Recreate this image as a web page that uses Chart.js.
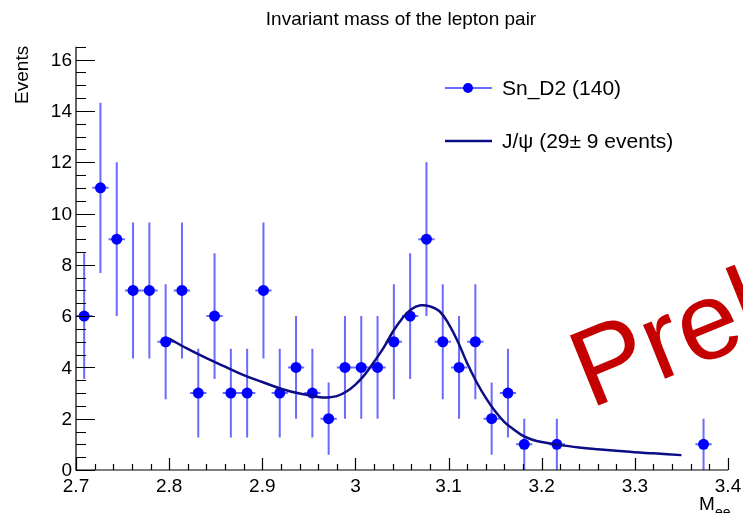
<!DOCTYPE html>
<html lang="en">
  <head>
    <meta charset="UTF-8" />
    <title>Invariant mass</title>
    <script src="https://cdn.jsdelivr.net/npm/chart.js"></script>
    <style>
      html, body { margin: 0; padding: 0; background: #fff; }
      #wrap { width: 743px; height: 513px; }
    </style>
  </head>
  <body>
    <div id="wrap">
      <canvas id="myChart" width="743" height="513"></canvas>
    </div>

    <script>
      // bin centres (bin width 0.0175) of the non-empty bins
      const binCenters = [
        2.70875, 2.72625, 2.74375, 2.76125, 2.77875, 2.79625, 2.81375, 2.83125,
        2.84875, 2.86625, 2.88375, 2.90125, 2.91875, 2.93625, 2.95375, 2.97125,
        2.98875, 3.00625, 3.02375, 3.04125, 3.05875, 3.07625, 3.09375, 3.11125,
        3.12875, 3.14625, 3.16375, 3.18125, 3.21625, 3.37375,
      ];
      const counts = [
        6, 11, 9, 7, 7, 5, 7, 3, 6, 3, 3, 7, 3, 4, 3, 2, 4, 4, 4, 5, 6, 9, 5, 4,
        5, 2, 3, 1, 1, 1,
      ];
      const countErr = [
        2.45, 3.32, 3.0, 2.65, 2.65, 2.24, 2.65, 1.73, 2.45, 1.73, 1.73, 2.65,
        1.73, 2.0, 1.73, 1.41, 2.0, 2.0, 2.0, 2.24, 2.45, 3.0, 2.24, 2.0, 2.24,
        1.41, 1.73, 1.0, 1.0, 1.0,
      ];
      const binHalfWidth = 0.00875;

      // J/psi fit curve
      const fitX = [
        2.8, 2.82, 2.84, 2.86, 2.88, 2.9, 2.92, 2.94, 2.96, 2.97, 2.98, 2.99,
        3.0, 3.01, 3.02, 3.03, 3.04, 3.05, 3.06, 3.07, 3.08, 3.09, 3.1, 3.11,
        3.12, 3.13, 3.14, 3.15, 3.16, 3.17, 3.18, 3.19, 3.2, 3.22, 3.24, 3.26,
        3.28, 3.3, 3.32, 3.35,
      ];
      const fitY = [
        5.12, 4.72, 4.36, 4.03, 3.7, 3.43, 3.17, 2.98, 2.85, 2.83, 2.88, 3.05,
        3.33, 3.72, 4.22, 4.75, 5.38, 5.9, 6.27, 6.42, 6.38, 6.2, 5.7, 5.0,
        4.16, 3.43, 2.81, 2.29, 1.87, 1.58, 1.33, 1.18, 1.09, 0.97, 0.88, 0.81,
        0.75, 0.69, 0.65, 0.58,
      ];

      const xTicks = [2.7, 2.8, 2.9, 3.0, 3.1, 3.2, 3.3, 3.4];
      const xTickLabels = ["2.7", "2.8", "2.9", "3", "3.1", "3.2", "3.3", "3.4"];
      const yTicks = [0, 2, 4, 6, 8, 10, 12, 14, 16];

      const FONT = "'Liberation Sans', Arial, sans-serif";
      const errColor = "rgba(90, 90, 255, 0.9)";
      const markColor = "#0000ff";
      const fitColor = "#0c0c86";

      const rootStyle = {
        id: "rootStyle",
        beforeDatasetsDraw(chart) {
          const ctx = chart.ctx;
          const xs = chart.scales.x;
          const ys = chart.scales.y;
          ctx.save();
          ctx.strokeStyle = errColor;
          ctx.lineWidth = 2;
          for (let i = 0; i < counts.length; i++) {
            const px = xs.getPixelForValue(binCenters[i]);
            const py = ys.getPixelForValue(counts[i]);
            ctx.beginPath();
            ctx.moveTo(px, ys.getPixelForValue(Math.max(0, counts[i] - countErr[i])));
            ctx.lineTo(px, ys.getPixelForValue(counts[i] + countErr[i]));
            ctx.moveTo(xs.getPixelForValue(binCenters[i] - binHalfWidth), py);
            ctx.lineTo(xs.getPixelForValue(binCenters[i] + binHalfWidth), py);
            ctx.stroke();
          }
          ctx.restore();
        },
        afterDraw(chart) {
          const ctx = chart.ctx;
          const xs = chart.scales.x;
          const ys = chart.scales.y;
          const a = chart.chartArea;
          ctx.save();
          // axes
          ctx.strokeStyle = "#000";
          ctx.lineWidth = 1.2;
          ctx.beginPath();
          ctx.moveTo(a.left, a.top);
          ctx.lineTo(a.left, a.bottom);
          ctx.lineTo(a.right, a.bottom);
          ctx.stroke();

          // y ticks (inside), minors every 0.5
          ctx.beginPath();
          for (let v = 0; v <= 16.5001; v += 0.5) {
            const py = Math.round(ys.getPixelForValue(v)) + 0.5;
            const major = Math.abs(v / 2 - Math.round(v / 2)) < 1e-6;
            ctx.moveTo(a.left, py);
            ctx.lineTo(a.left + (major ? 19 : 10), py);
          }
          // x ticks, minors every 0.02
          for (let k = 0; k <= 35; k++) {
            const v = 2.7 + k * 0.02;
            const px = Math.round(xs.getPixelForValue(v)) + 0.5;
            const major = k % 5 === 0;
            ctx.moveTo(px, a.bottom);
            ctx.lineTo(px, a.bottom - (major ? 12 : 6));
          }
          ctx.stroke();

          // tick labels
          ctx.fillStyle = "#000";
          ctx.font = "19px " + FONT;
          ctx.textAlign = "right";
          ctx.textBaseline = "middle";
          yTicks.forEach((v) => {
            ctx.fillText(String(v), a.left - 4, ys.getPixelForValue(v) + 1);
          });
          ctx.textAlign = "center";
          ctx.textBaseline = "alphabetic";
          xTicks.forEach((v, i) => {
            ctx.fillText(xTickLabels[i], xs.getPixelForValue(v), 492);
          });

          // axis titles
          ctx.save();
          ctx.translate(23, a.top - 1);
          ctx.rotate(-Math.PI / 2);
          ctx.textAlign = "right";
          ctx.textBaseline = "middle";
          ctx.font = "19px " + FONT;
          ctx.fillText("Events", 0, 0);
          ctx.restore();

          ctx.textAlign = "left";
          ctx.font = "19px " + FONT;
          ctx.fillText("M", 699, 510);
          ctx.font = "14px " + FONT;
          ctx.fillText("ee", 715, 517);

          // title
          ctx.textAlign = "center";
          ctx.font = "19px " + FONT;
          ctx.fillText("Invariant mass of the lepton pair", 401, 25);

          // legend
          ctx.lineWidth = 2;
          ctx.strokeStyle = errColor;
          ctx.beginPath();
          ctx.moveTo(445, 88);
          ctx.lineTo(492, 88);
          ctx.stroke();
          ctx.fillStyle = markColor;
          ctx.beginPath();
          ctx.arc(468, 88, 5, 0, Math.PI * 2);
          ctx.fill();
          ctx.strokeStyle = fitColor;
          ctx.lineWidth = 2.5;
          ctx.beginPath();
          ctx.moveTo(445, 141);
          ctx.lineTo(492, 141);
          ctx.stroke();
          ctx.fillStyle = "#000";
          ctx.textAlign = "left";
          ctx.textBaseline = "middle";
          ctx.font = "21px " + FONT;
          ctx.fillText("Sn_D2 (140)", 502, 89);
          ctx.fillText("J/\u03c8 (29\u00b1 9 events)", 502, 142);

          // "Preliminary" stamp, cut by the canvas edge
          ctx.save();
          ctx.translate(590, 409);
          ctx.rotate((-22 * Math.PI) / 180);
          ctx.fillStyle = "#c40000";
          ctx.textBaseline = "alphabetic";
          ctx.font = "110px " + FONT;
          ctx.fillText("Preliminary", 0, 0);
          ctx.restore();

          ctx.restore();
        },
      };

      const data = {
        datasets: [
          {
            label: "Sn_D2 (140)",
            data: binCenters.map((x, i) => ({ x: x, y: counts[i] })),
            showLine: false,
            pointRadius: 5.5,
            pointBackgroundColor: markColor,
            pointBorderWidth: 0,
            order: 2,
          },
          {
            label: "J/psi",
            data: fitX.map((x, i) => ({ x: x, y: fitY[i] })),
            showLine: true,
            borderColor: fitColor,
            borderWidth: 2.5,
            pointRadius: 0,
            tension: 0.4,
            fill: false,
            order: 1,
          },
        ],
      };

      const config = {
        type: "scatter",
        data: data,
        plugins: [rootStyle],
        options: {
          responsive: false,
          animation: false,
          devicePixelRatio: 1,
          layout: { padding: { left: 76, right: 15, top: 46.8, bottom: 43 } },
          plugins: { legend: { display: false }, tooltip: { enabled: false } },
          scales: {
            x: { type: "linear", min: 2.7, max: 3.4, display: false },
            y: { min: 0, max: 16.5, display: false },
          },
        },
      };

      const myChart = new Chart(document.getElementById("myChart"), config);
    </script>
  </body>
</html>
